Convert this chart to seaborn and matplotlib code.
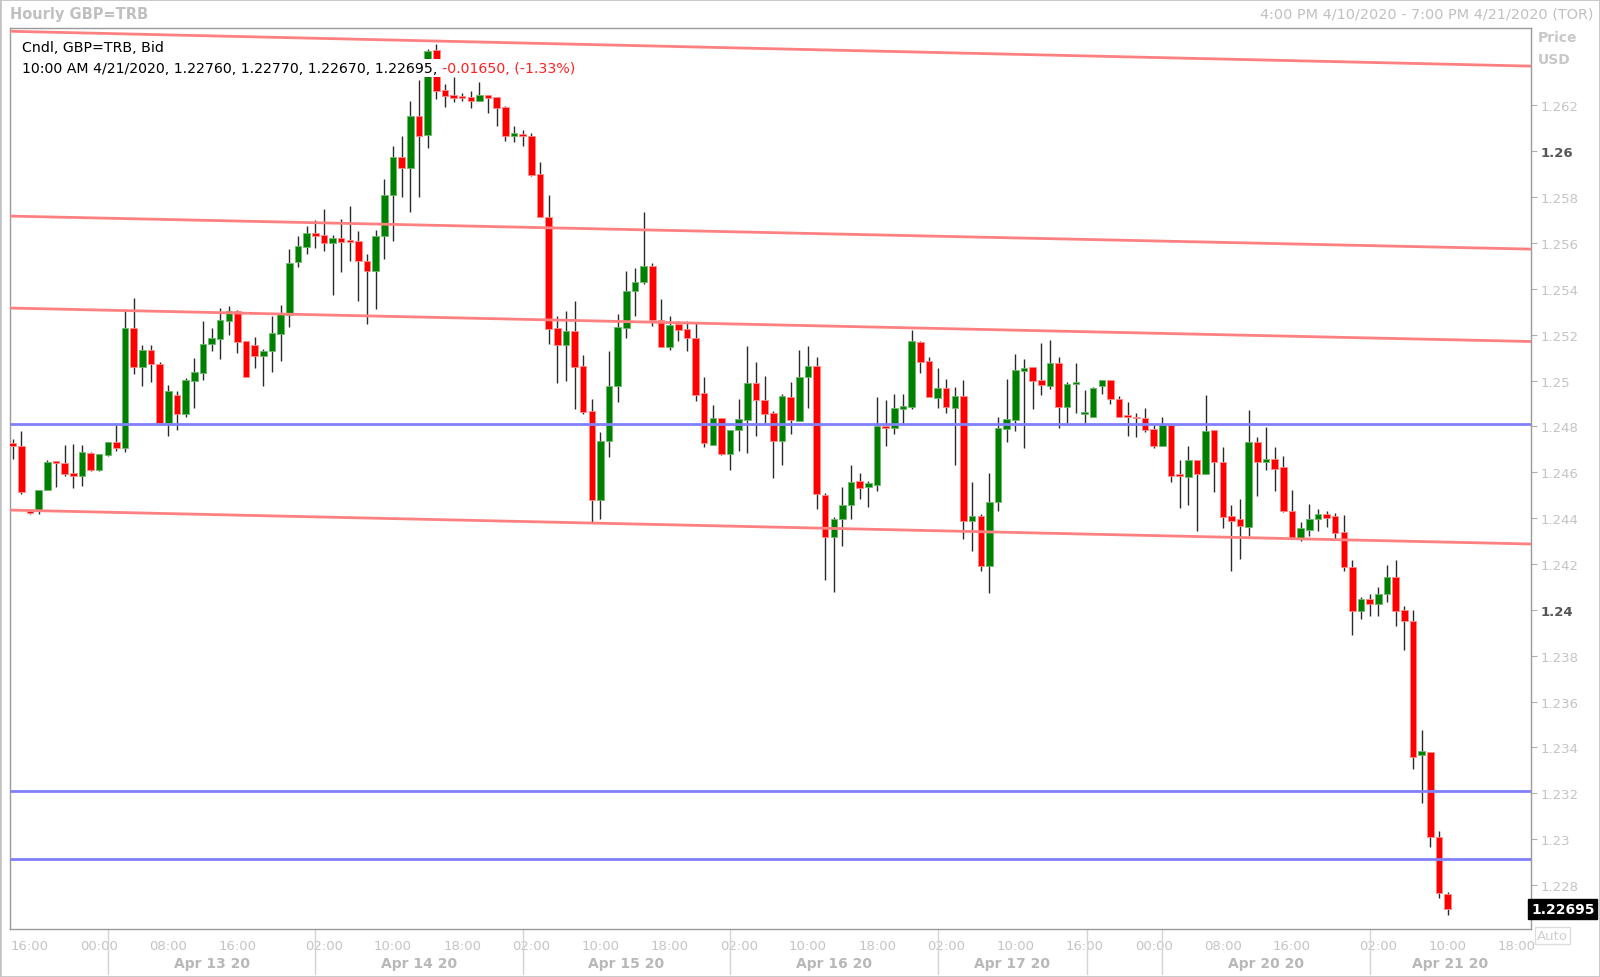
import numpy as np
import pandas as pd
import seaborn as sns
import matplotlib
matplotlib.use("Agg")
from matplotlib import pyplot as plt
from matplotlib import transforms

# hourly GBP=TRB candles, 16:00 Apr 10 .. 10:00 Apr 21 (weekend hours removed)
opens = [1.24727, 1.24716, 1.24430, 1.24437, 1.24524, 1.24646, 1.24641, 1.24596, 1.24585, 1.24684,
         1.24610, 1.24675, 1.24732, 1.24704, 1.25227, 1.25057, 1.25133, 1.25072, 1.24815, 1.24937,
         1.24854, 1.24999, 1.25033, 1.25158, 1.25181, 1.25261, 1.25304, 1.25173, 1.25156, 1.25108,
         1.25127, 1.25203, 1.25287, 1.25518, 1.25581, 1.25643, 1.25634, 1.25598, 1.25620, 1.25608,
         1.25608, 1.25520, 1.25479, 1.25629, 1.25809, 1.25973, 1.25927, 1.26152, 1.26070, 1.26443,
         1.26267, 1.26245, 1.26241, 1.26238, 1.26220, 1.26244, 1.26235, 1.26191, 1.26068, 1.26073,
         1.26068, 1.25900, 1.25714, 1.25229, 1.25155, 1.25214, 1.25065, 1.24865, 1.24479, 1.24737,
         1.24977, 1.25227, 1.25389, 1.25428, 1.25501, 1.25264, 1.25144, 1.25246, 1.25224, 1.25185,
         1.24944, 1.24719, 1.24836, 1.24679, 1.24784, 1.24828, 1.24989, 1.24915, 1.24858, 1.24737,
         1.24929, 1.24825, 1.25014, 1.25062, 1.24501, 1.24319, 1.24396, 1.24458, 1.24563, 1.24534,
         1.24546, 1.24803, 1.24793, 1.24876, 1.24886, 1.25166, 1.25086, 1.24924, 1.24966, 1.24880,
         1.24931, 1.24389, 1.24408, 1.24192, 1.24469, 1.24788, 1.24829, 1.25040, 1.25057, 1.25002,
         1.24974, 1.25076, 1.24883, 1.24983, 1.24854, 1.24842, 1.24974, 1.25002, 1.24919, 1.24844,
         1.24843, 1.24836, 1.24788, 1.24716, 1.24806, 1.24592, 1.24580, 1.24653, 1.24592, 1.24785,
         1.24646, 1.24408, 1.24396, 1.24359, 1.24733, 1.24643, 1.24658, 1.24621, 1.24432, 1.24313,
         1.24348, 1.24396, 1.24418, 1.24410, 1.24338, 1.24188, 1.23996, 1.24047, 1.24025, 1.24069,
         1.24144, 1.23999, 1.23953, 1.23368, 1.23378, 1.23008, 1.22760]
highs = [1.24745, 1.24778, 1.24434, 1.24524, 1.24653, 1.24650, 1.24720, 1.24723, 1.24720, 1.24687,
         1.24679, 1.24733, 1.24806, 1.25312, 1.25360, 1.25155, 1.25156, 1.25079, 1.24980, 1.24953,
         1.25011, 1.25099, 1.25261, 1.25227, 1.25315, 1.25323, 1.25309, 1.25173, 1.25188, 1.25137,
         1.25283, 1.25329, 1.25574, 1.25629, 1.25672, 1.25700, 1.25748, 1.25634, 1.25704, 1.25759,
         1.25653, 1.25552, 1.25656, 1.25879, 1.26024, 1.26065, 1.26220, 1.26312, 1.26445, 1.26467,
         1.26293, 1.26322, 1.26254, 1.26264, 1.26303, 1.26244, 1.26235, 1.26198, 1.26111, 1.26093,
         1.26079, 1.25951, 1.25809, 1.25280, 1.25305, 1.25345, 1.25111, 1.24919, 1.24777, 1.25130,
         1.25290, 1.25476, 1.25489, 1.25735, 1.25512, 1.25355, 1.25280, 1.25261, 1.25261, 1.25253,
         1.25017, 1.24893, 1.24836, 1.24784, 1.24919, 1.25149, 1.25082, 1.25021, 1.24865, 1.24941,
         1.24995, 1.25133, 1.25152, 1.25101, 1.24508, 1.24403, 1.24534, 1.24631, 1.24596, 1.24563,
         1.24926, 1.24915, 1.24941, 1.24941, 1.25220, 1.25172, 1.25101, 1.25053, 1.25006, 1.24970,
         1.25004, 1.24559, 1.24418, 1.24597, 1.24839, 1.25006, 1.25115, 1.25094, 1.25057, 1.25163,
         1.25176, 1.25101, 1.24995, 1.25075, 1.24958, 1.24970, 1.25002, 1.25002, 1.24934, 1.24908,
         1.24858, 1.24878, 1.24806, 1.24839, 1.24806, 1.24653, 1.24716, 1.24653, 1.24937, 1.24785,
         1.24708, 1.24458, 1.24483, 1.24871, 1.24752, 1.24796, 1.24708, 1.24669, 1.24522, 1.24384,
         1.24461, 1.24440, 1.24432, 1.24420, 1.24413, 1.24217, 1.24054, 1.24069, 1.24098, 1.24197,
         1.24217, 1.24018, 1.23999, 1.23476, 1.23378, 1.23034, 1.22770]
lows = [1.24658, 1.24505, 1.24418, 1.24418, 1.24524, 1.24534, 1.24585, 1.24530, 1.24541, 1.24607,
        1.24607, 1.24669, 1.24694, 1.24690, 1.25028, 1.24977, 1.24992, 1.24815, 1.24759, 1.24784,
        1.24839, 1.24878, 1.25003, 1.25130, 1.25094, 1.25198, 1.25120, 1.25014, 1.25053, 1.24974,
        1.25036, 1.25086, 1.25235, 1.25493, 1.25552, 1.25576, 1.25566, 1.25373, 1.25472, 1.25522,
        1.25348, 1.25246, 1.25312, 1.25530, 1.25607, 1.25799, 1.25733, 1.25799, 1.26012, 1.26227,
        1.26191, 1.26216, 1.26220, 1.26187, 1.26220, 1.26166, 1.26108, 1.26046, 1.26041, 1.26024,
        1.25893, 1.25714, 1.25159, 1.24987, 1.24999, 1.24876, 1.24854, 1.24381, 1.24396, 1.24665,
        1.24905, 1.25184, 1.25283, 1.25421, 1.25236, 1.25147, 1.25134, 1.25171, 1.25130, 1.24912,
        1.24708, 1.24719, 1.24675, 1.24609, 1.24691, 1.24684, 1.24759, 1.24814, 1.24574, 1.24633,
        1.24766, 1.24825, 1.24878, 1.24439, 1.24131, 1.24076, 1.24280, 1.24396, 1.24483, 1.24447,
        1.24519, 1.24713, 1.24767, 1.24815, 1.24876, 1.25033, 1.24926, 1.24879, 1.24858, 1.24633,
        1.24309, 1.24255, 1.24168, 1.24073, 1.24429, 1.24733, 1.24778, 1.24704, 1.24876, 1.24937,
        1.24963, 1.24791, 1.24815, 1.24858, 1.24815, 1.24842, 1.24941, 1.24897, 1.24842, 1.24759,
        1.24755, 1.24774, 1.24704, 1.24716, 1.24556, 1.24442, 1.24458, 1.24342, 1.24592, 1.24512,
        1.24355, 1.24168, 1.24221, 1.24323, 1.24498, 1.24611, 1.24517, 1.24425, 1.24313, 1.24298,
        1.24320, 1.24345, 1.24360, 1.24309, 1.24168, 1.23891, 1.23960, 1.23975, 1.23975, 1.24035,
        1.23928, 1.23826, 1.23306, 1.23156, 1.22964, 1.22742, 1.22670]
closes = [1.24716, 1.24512, 1.24422, 1.24524, 1.24646, 1.24639, 1.24592, 1.24585, 1.24687, 1.24611,
          1.24679, 1.24733, 1.24704, 1.25227, 1.25057, 1.25133, 1.25071, 1.24815, 1.24953, 1.24854,
          1.25003, 1.25035, 1.25159, 1.25184, 1.25262, 1.25304, 1.25169, 1.25017, 1.25108, 1.25127,
          1.25207, 1.25290, 1.25511, 1.25585, 1.25643, 1.25632, 1.25598, 1.25620, 1.25605, 1.25606,
          1.25520, 1.25479, 1.25629, 1.25809, 1.25973, 1.25927, 1.26152, 1.26068, 1.26438, 1.26264,
          1.26242, 1.26232, 1.26232, 1.26220, 1.26245, 1.26232, 1.26187, 1.26068, 1.26078, 1.26065,
          1.25896, 1.25714, 1.25224, 1.25155, 1.25214, 1.25057, 1.24861, 1.24479, 1.24737, 1.24977,
          1.25232, 1.25389, 1.25431, 1.25501, 1.25264, 1.25147, 1.25243, 1.25220, 1.25184, 1.24938,
          1.24726, 1.24836, 1.24679, 1.24784, 1.24832, 1.24988, 1.24916, 1.24854, 1.24737, 1.24934,
          1.24828, 1.25017, 1.25062, 1.24505, 1.24319, 1.24396, 1.24457, 1.24559, 1.24530, 1.24551,
          1.24803, 1.24793, 1.24878, 1.24890, 1.25174, 1.25082, 1.24926, 1.24966, 1.24883, 1.24931,
          1.24389, 1.24408, 1.24189, 1.24471, 1.24791, 1.24832, 1.25046, 1.25054, 1.24999, 1.24980,
          1.25076, 1.24883, 1.24985, 1.24995, 1.24861, 1.24966, 1.25002, 1.24919, 1.24842, 1.24842,
          1.24835, 1.24784, 1.24716, 1.24806, 1.24585, 1.24585, 1.24653, 1.24592, 1.24781, 1.24643,
          1.24406, 1.24389, 1.24364, 1.24733, 1.24643, 1.24658, 1.24614, 1.24429, 1.24313, 1.24357,
          1.24396, 1.24418, 1.24399, 1.24335, 1.24185, 1.23996, 1.24047, 1.24025, 1.24069, 1.24144,
          1.23996, 1.23950, 1.23359, 1.23383, 1.23008, 1.22765, 1.22695]

# bottom axis: candle index of each hour label, day separators and day names
time_ticks = [2, 10, 18, 26, 36, 44, 52, 60, 68, 76, 84, 92, 100, 108, 116, 124, 132, 140, 148, 158, 166, 174]
time_labels = ["16:00", "00:00", "08:00", "16:00", "02:00", "10:00", "18:00", "02:00", "10:00", "18:00", "02:00",
               "10:00", "18:00", "02:00", "10:00", "16:00", "00:00", "08:00", "16:00", "02:00", "10:00", "18:00"]
day_seps = [11, 35, 59, 83, 107, 124.3, 133, 157]
day_names = ["Apr 13 20", "Apr 14 20", "Apr 15 20", "Apr 16 20", "Apr 17 20", "Apr 20 20", "Apr 21 20"]
day_centers = [23, 47, 71, 95, 115.6, 145, 166.3]

price_ticks = [1.228, 1.230, 1.232, 1.234, 1.236, 1.238, 1.240, 1.242, 1.244, 1.246,
               1.248, 1.250, 1.252, 1.254, 1.256, 1.258, 1.260, 1.262]
price_labels = ["1.228", "1.23", "1.232", "1.234", "1.236", "1.238", "1.24", "1.242", "1.244", "1.246",
                "1.248", "1.25", "1.252", "1.254", "1.256", "1.258", "1.26", "1.262"]
bold_labels = ["1.24", "1.26"]

# drawn lines: sloping channel (left / right edge values) and flat levels
trend_left = [1.26523, 1.25717, 1.25316, 1.24435]
trend_right = [1.26371, 1.25573, 1.25170, 1.24287]
flat_levels = [1.24812, 1.23210, 1.22914]

x_lo, x_hi = -0.32, 175.66
y_lo, y_hi = 1.22608, 1.26539

sns.set_style("white")
plt.rcParams["font.family"] = ["DejaVu Sans"]

W, H = 1600, 978
fig = plt.figure(figsize=(W / 100, H / 100), dpi=100)
ax = fig.add_axes([10 / W, 1 - 930 / H, 1521 / W, 901.4 / H])

df = pd.DataFrame({"open": opens, "high": highs, "low": lows, "close": closes})
df["x"] = np.arange(len(df))
up = df["close"] >= df["open"]

ax.vlines(df["x"], df["low"], df["high"], color="#2A2A2A", lw=1, zorder=2)
body_bottom = np.minimum(df["open"], df["close"])
body_height = np.maximum((df["close"] - df["open"]).abs(), 0.00008)
ax.bar(df["x"], body_height, bottom=body_bottom, width=0.76,
       color=np.where(up, "#008000", "#FF0000"),
       edgecolor=np.where(up, "#6FB86F", "#FF8A8A"), linewidth=0.6, zorder=3)

trend_df = pd.DataFrame({
    "x": [x_lo, x_hi] * len(trend_left),
    "price": [v for pair in zip(trend_left, trend_right) for v in pair],
    "line": np.repeat(np.arange(len(trend_left)), 2),
})
sns.lineplot(data=trend_df, x="x", y="price", units="line", estimator=None,
             color="#FF8080", lw=2, ax=ax, zorder=4)
for lvl in flat_levels:
    ax.axhline(lvl, color="#8080FF", lw=2, zorder=4)

ax.set_xlim(x_lo, x_hi)
ax.set_ylim(y_lo, y_hi)
ax.set_xlabel("")
ax.set_ylabel("")
for sp in ax.spines.values():
    sp.set_color("#9A9A9A")
    sp.set_linewidth(1)

# right price axis
ax.yaxis.tick_right()
ax.set_yticks(price_ticks, price_labels)
ax.tick_params(axis="y", length=4, color="#B0B0B0", labelcolor="#C4C4C4", labelsize=9.5, pad=3)
for lab in ax.get_yticklabels():
    if lab.get_text() in bold_labels:
        lab.set_fontweight("bold")
        lab.set_color("#555555")

# bottom time axis
ax.set_xticks(time_ticks, time_labels)
ax.tick_params(axis="x", length=4, color="#C8C8C8", labelcolor="#C4C4C4", labelsize=9.5, pad=3)
trans = transforms.blended_transform_factory(ax.transData, ax.transAxes)
for s in day_seps:
    ax.plot([s, s], [0, -0.05], transform=trans, color="#D4D4D4", lw=1, clip_on=False)
for c, name in zip(day_centers, day_names):
    ax.text(c, -0.038, name, transform=trans, ha="center", va="center",
            fontsize=10, fontweight="bold", color="#B8B8B8")

# info lines in the top-left corner
box = dict(boxstyle="square,pad=0.12", fc="white", ec="none")
ax.text(0.0079, 0.9785, "Cndl, GBP=TRB, Bid", transform=ax.transAxes, ha="left", va="center",
        fontsize=10.2, color="black", bbox=box, zorder=10)
t2 = ax.text(0.0079, 0.9552, "10:00 AM 4/21/2020, 1.22760, 1.22770, 1.22670, 1.22695, ",
             transform=ax.transAxes, ha="left", va="center", fontsize=10.2, color="black",
             bbox=box, zorder=10)
ax.annotate("-0.01650, (-1.33%)", xy=(1, 0.5), xycoords=t2, ha="left", va="center",
            fontsize=10.2, color="#FF2020", bbox=box, zorder=10)

# last price tag
ytrans = transforms.blended_transform_factory(ax.transAxes, ax.transData)
ax.text(1.004, 1.22608, "Auto", transform=ytrans, ha="left", va="top", fontsize=9.5,
        color="#D0D0D0", bbox=dict(boxstyle="square,pad=0.15", fc="white", ec="#DDDDDD"),
        clip_on=False, zorder=5)
ax.text(1.0, closes[-1], f"{closes[-1]:.5f}", transform=ytrans, ha="left", va="center",
        fontsize=10, fontweight="bold", color="white",
        bbox=dict(boxstyle="square,pad=0.2", fc="black", ec="black"), clip_on=False, zorder=11)

# header
fig.text(10 / W, 1 - 15 / H, "Hourly GBP=TRB", ha="left", va="center", fontsize=10.5,
         fontweight="bold", color="#C0C0C0")
fig.text(1594 / W, 1 - 15 / H, "4:00 PM 4/10/2020 - 7:00 PM 4/21/2020 (TOR)", ha="right",
         va="center", fontsize=10.4, color="#C0C0C0")
fig.text(1538 / W, 1 - 38 / H, "Price", ha="left", va="center", fontsize=10,
         fontweight="bold", color="#C8C8C8")
fig.text(1538 / W, 1 - 60 / H, "USD", ha="left", va="center", fontsize=10,
         fontweight="bold", color="#C8C8C8")

fig.patches.append(plt.Rectangle((0, 0), 1, 1, transform=fig.transFigure, fill=False,
                                 ec="#C4C4C4", lw=2))

fig.savefig("out.png", dpi=100)
